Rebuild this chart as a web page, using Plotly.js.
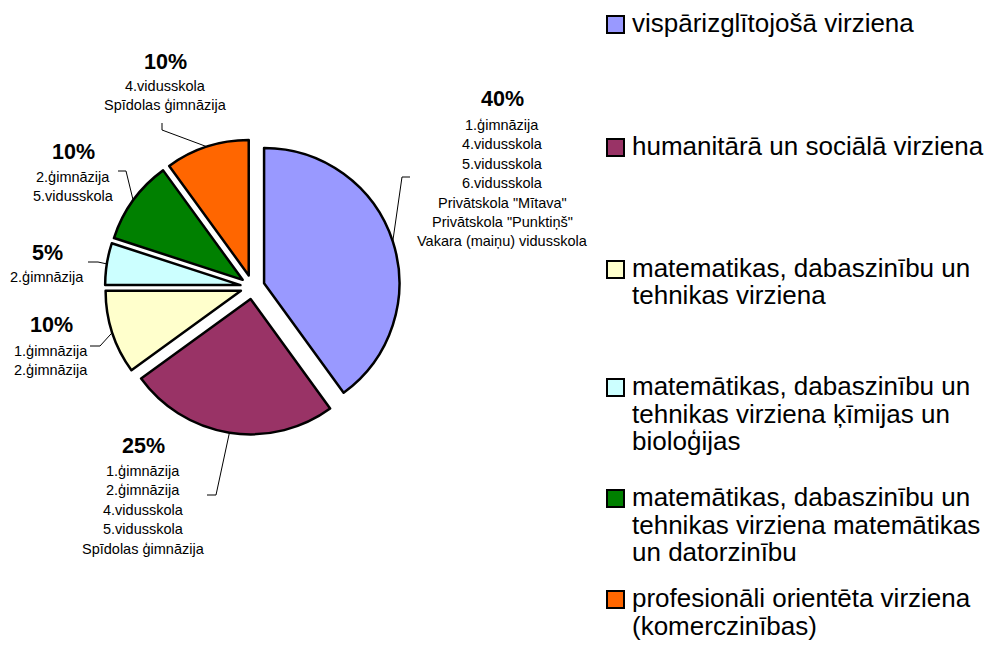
<!DOCTYPE html>
<html><head><meta charset="utf-8">
<script src="https://cdn.plot.ly/plotly-3.0.1.min.js"></script>
<style>html,body{margin:0;padding:0;background:#fff}#chart{width:990px;height:672px}</style>
</head><body><div id="chart"></div>
<script>
// ---- data ----
const categories = [
  "vispārizglītojošā virziena",
  "humanitārā un sociālā virziena",
  "matematikas, dabaszinību un tehnikas virziena",
  "matemātikas, dabaszinību un tehnikas virziena ķīmijas un bioloģijas",
  "matemātikas, dabaszinību un tehnikas virziena matemātikas un datorzinību",
  "profesionāli orientēta virziena (komerczinības)"
];
const legendLines = [
  ["vispārizglītojošā virziena"],
  ["humanitārā un sociālā virziena"],
  ["matematikas, dabaszinību un", "tehnikas virziena"],
  ["matemātikas, dabaszinību un", "tehnikas virziena ķīmijas un", "bioloģijas"],
  ["matemātikas, dabaszinību un", "tehnikas virziena matemātikas", "un datorzinību"],
  ["profesionāli orientēta virziena", "(komerczinības)"]
];
const values = [40, 25, 10, 5, 10, 10];
const schools = [
  ["1.ģimnāzija", "4.vidusskola", "5.vidusskola", "6.vidusskola", "Privātskola \"Mītava\"", "Privātskola \"Punktiņš\"", "Vakara (maiņu) vidusskola"],
  ["1.ģimnāzija", "2.ģimnāzija", "4.vidusskola", "5.vidusskola", "Spīdolas ģimnāzija"],
  ["1.ģimnāzija", "2.ģimnāzija"],
  ["2.ģimnāzija"],
  ["2.ģimnāzija", "5.vidusskola"],
  ["4.vidusskola", "Spīdolas ģimnāzija"]
];

// ---- styles / layout constants ----
const colors = ["#9999FF", "#993366", "#FFFFCC", "#CCFFFF", "#008000", "#FF6600"];
const W = 990, H = 672;
const PIE = {cx: 252.5, cy: 287, R: 147.5, pull: 0.09};
const FONT = "Arial, 'Liberation Sans', sans-serif";
// label placement: [centerX, percentY, firstSchoolLineY]
const labelPos = [[502, 99, 125], [143, 446, 471], [51, 325, 351], [47, 253, 277], [73, 152, 177], [165, 62, 86]];
const schoolSpacing = 19.4;
// leader elbows: [elbowX, elbowY, endX, endY]
const leaders = [[402, 177, 410, 177], [216, 495, 207, 495], [100, 346, 90, 346], [98, 262, 88, 262], [126, 171, 118, 171], [162, 130, 162, 123]];
// legend
const legendFirstY = [23, 146, 268, 386, 497, 598];
const legendLineH = 27.5;
const legendBoxX = 607, legendBoxS = 17, legendTextX = 630;

const px = x => x / W, py = y => 1 - y / H;

const traces = [{
  type: 'pie', values: values, labels: categories, sort: false,
  direction: 'clockwise', rotation: 0,
  pull: values.map(() => PIE.pull),
  marker: {colors: colors, line: {color: '#000000', width: 2.5}},
  textinfo: 'none', hoverinfo: 'label+percent', showlegend: false,
  domain: {x: [px(PIE.cx - PIE.R), px(PIE.cx + PIE.R)], y: [py(PIE.cy + PIE.R), py(PIE.cy - PIE.R)]}
}];

const total = values.reduce((a, b) => a + b, 0);
const annotations = [];
const shapes = [];
let cum = 0;
values.forEach((v, i) => {
  const mid = (cum + v / 2) / total * 2 * Math.PI;
  cum += v;
  const ax = PIE.cx + PIE.R * Math.sin(mid), ay = PIE.cy - PIE.R * Math.cos(mid);
  const [ex, ey, tx, ty] = leaders[i];
  shapes.push({type: 'path', xref: 'paper', yref: 'paper',
    path: `M ${px(ax)} ${py(ay)} L ${px(ex)} ${py(ey)} L ${px(tx)} ${py(ty)}`,
    line: {color: '#000000', width: 1}});
  const [lx, pY, sY] = labelPos[i];
  annotations.push({xref: 'paper', yref: 'paper', x: px(lx), y: py(pY), xanchor: 'center', yanchor: 'middle',
    showarrow: false, text: '<b>' + Math.round(v / total * 100) + '%</b>',
    font: {family: FONT, size: 21.5, color: '#000000'}});
  schools[i].forEach((s, k) => {
    annotations.push({xref: 'paper', yref: 'paper', x: px(lx), y: py(sY + k * schoolSpacing), xanchor: 'center', yanchor: 'middle',
      showarrow: false, text: s, font: {family: FONT, size: 14.5, color: '#000000'}});
  });
});

legendLines.forEach((lines, i) => {
  const y0 = legendFirstY[i];
  shapes.push({type: 'rect', xref: 'paper', yref: 'paper',
    x0: px(legendBoxX), x1: px(legendBoxX + legendBoxS), y0: py(y0 + 1.5 - legendBoxS / 2), y1: py(y0 + 1.5 + legendBoxS / 2),
    fillcolor: colors[i], line: {color: '#000000', width: 2}});
  lines.forEach((t, k) => {
    annotations.push({xref: 'paper', yref: 'paper', x: px(legendTextX), y: py(y0 + k * legendLineH), xanchor: 'left', yanchor: 'middle',
      showarrow: false, text: t, font: {family: FONT, size: 26, color: '#000000'}});
  });
});

const layout = {
  width: W, height: H, margin: {l: 0, r: 0, t: 0, b: 0},
  paper_bgcolor: '#ffffff', plot_bgcolor: '#ffffff',
  showlegend: false, annotations: annotations, shapes: shapes,
  font: {family: FONT}
};
Plotly.newPlot('chart', traces, layout, {displayModeBar: false, staticPlot: true});
</script>
</body></html>
